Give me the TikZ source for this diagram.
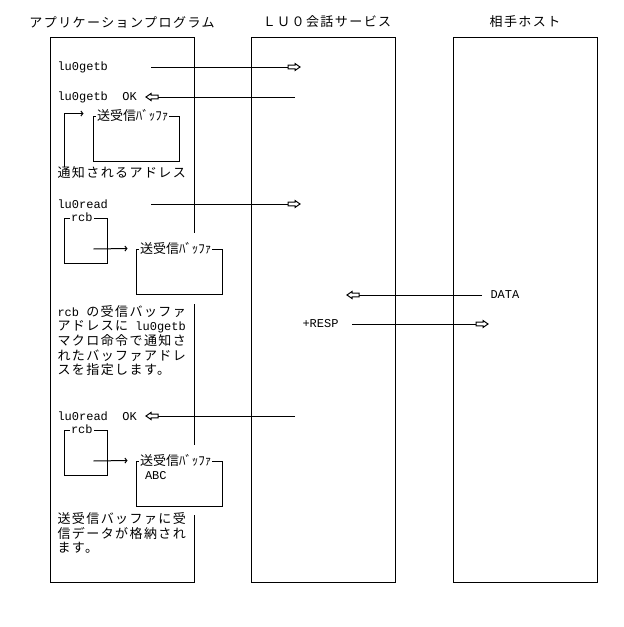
\documentclass[tikz,border=0pt]{standalone}
\usepackage{fontspec}
\setmainfont{Liberation Mono}
\newfontfamily\jp[Scale=1.0833,LetterSpace=11]{Noto Sans CJK JP}
\newfontfamily\jpl[Scale=1.0833]{Noto Sans CJK JP}
\usetikzlibrary{arrows.meta,backgrounds}

% hollow block arrow head
\pgfdeclarearrow{
  name = Block,
  setup code = {
    \pgfarrowssettipend{0pt}
    \pgfarrowssetlineend{-12pt}
    \pgfarrowssetvisualbackend{-12pt}
    \pgfarrowssetbackend{-12pt}
    \pgfarrowsupperhullpoint{0pt}{0pt}
    \pgfarrowsupperhullpoint{-5pt}{3.5pt}
    \pgfarrowsupperhullpoint{-12pt}{2pt}
  },
  drawing code = {
    \pgfpathmoveto{\pgfqpoint{0pt}{0pt}}
    \pgfpathlineto{\pgfqpoint{-5pt}{3.5pt}}
    \pgfpathlineto{\pgfqpoint{-5pt}{1.8pt}}
    \pgfpathlineto{\pgfqpoint{-12pt}{1.8pt}}
    \pgfpathlineto{\pgfqpoint{-12pt}{-1.8pt}}
    \pgfpathlineto{\pgfqpoint{-5pt}{-1.8pt}}
    \pgfpathlineto{\pgfqpoint{-5pt}{-3.5pt}}
    \pgfpathclose
    \pgfusepathqstroke
  }
}

\tikzset{
  lane/.style={draw, minimum width=144pt, minimum height=545pt, inner sep=0pt},
  txt/.style={anchor=west, inner sep=0pt},
  buf/.style={draw, fill=white, minimum width=86pt, minimum height=45pt, inner sep=0pt},
  rcbbox/.style={draw, minimum width=43pt, minimum height=45pt, inner sep=0pt},
  lbl/.style={anchor=west, fill=white, inner xsep=1pt, inner ysep=0pt},
  msg/.style={-Block},
  ptr/.style={-{Straight Barb[length=2pt,width=5pt]}}
}

\begin{document}
\begin{tikzpicture}[x=1pt, y=-1pt, line width=1pt, font=\fontsize{12}{14.5}\selectfont]
  \useasboundingbox (0,0) rectangle (624,627);

  % lanes
  \begin{scope}[on background layer]
    \node[lane] (app) at (122,309.5) {};
    \node[lane] (luo) at (323,309.5) {};
    \node[lane] (host) at (525,309.5) {};
  \end{scope}
  \node (apptitle) at (122,22) {\jp アプリケーションプログラム};
  \node (luotitle) at (327,22) {\jp ＬＵ０会話サービス};
  \node (hosttitle) at (525,22) {\jp 相手ホスト};

  \coordinate (appout) at (151,0);
  \coordinate (appin) at (146,0);
  \coordinate (luoin) at (300,0);
  \coordinate (luoout) at (295,0);
  \coordinate (luorecv) at (347,0);
  \coordinate (luosend) at (352,0);
  \coordinate (hostin) at (488,0);
  \coordinate (hostout) at (482,0);

  % lu0getb
  \node[txt] (getb) at (57,67) {lu0getb};
  \node[txt] (getok) at (57,97) {lu0getb~~OK};
  \node[buf] (buf1) at (136,138.5) {};
  \node[lbl] (buf1t) at ([xshift=3pt]buf1.north west) {\jpl 送受信ﾊﾞｯﾌｧ};
  \node[txt] (addr) at (57,173) {\jp 通知されるアドレス};
  \draw[ptr] ([xshift=7pt]addr.north west) |- ([xshift=-9pt,yshift=2pt]buf1.north west);

  % lu0read
  \node[txt] (read) at (57,204) {lu0read};
  \node[rcbbox] (rcb1) at (85.5,240.5) {};
  \node[lbl] (rcb1t) at ([xshift=6pt]rcb1.north west) {rcb~};
  \node[buf] (buf2) at (179,271.5) {};
  \node[lbl] (buf2t) at ([xshift=3pt]buf2.north west) {\jpl 送受信ﾊﾞｯﾌｧ};
  \draw[ptr] ([xshift=-14pt,yshift=-8.5pt]rcb1.east) -- ([xshift=-8pt]buf2.north west);
  \foreach \t [count=\i from 0] in {rcb {\jp の受信バッファ}, {\jp アドレスに} lu0getb,
      {\jp マクロ命令で通知さ}, {\jp れたバッファアドレ}, {\jp スを指定します。}}
    \node[txt] (note\i) at (57,312+14.5*\i) {\t};

  % host side
  \node[txt] (data) at (490,295) {DATA};
  \node[txt] (resp) at (302,324) {+RESP};

  % lu0read OK
  \node[txt] (readok) at (57,416) {lu0read~~OK};
  \node[rcbbox] (rcb2) at (85.5,452.5) {};
  \node[lbl] (rcb2t) at ([xshift=6pt]rcb2.north west) {rcb~};
  \node[buf] (buf3) at (179,483.5) {};
  \node[lbl] (buf3t) at ([xshift=3pt]buf3.north west) {\jpl 送受信ﾊﾞｯﾌｧ};
  \node[txt] (abc) at ([xshift=9pt,yshift=-15pt]buf3.north west) {ABC};
  \draw[ptr] ([xshift=-14pt,yshift=-8.5pt]rcb2.east) -- ([xshift=-8pt]buf3.north west);
  \foreach \t [count=\i from 0] in {{\jp 送受信バッファに受}, {\jp 信データが格納され}, {\jp ます。}}
    \node[txt] (store\i) at (57,519+14.5*\i) {\t};

  % messages
  \draw[msg] (getb -| appout) -- (getb -| luoin);
  \draw[msg] (getok -| luoout) -- (getok -| appin);
  \draw[msg] (read -| appout) -- (read -| luoin);
  \draw[msg] (data -| hostout) -- (data -| luorecv);
  \draw[msg] (resp -| luosend) -- (resp -| hostin);
  \draw[msg] (readok -| luoout) -- (readok -| appin);

  % buffers hide the lane edge
  \begin{scope}[on background layer]
    \foreach \b/\u/\d in {buf2/16/9, buf3/16/8}
      \fill[white] ([yshift=\u pt]\b.north west) rectangle ([yshift=-\d pt]\b.south east);
  \end{scope}
\end{tikzpicture}
\end{document}
